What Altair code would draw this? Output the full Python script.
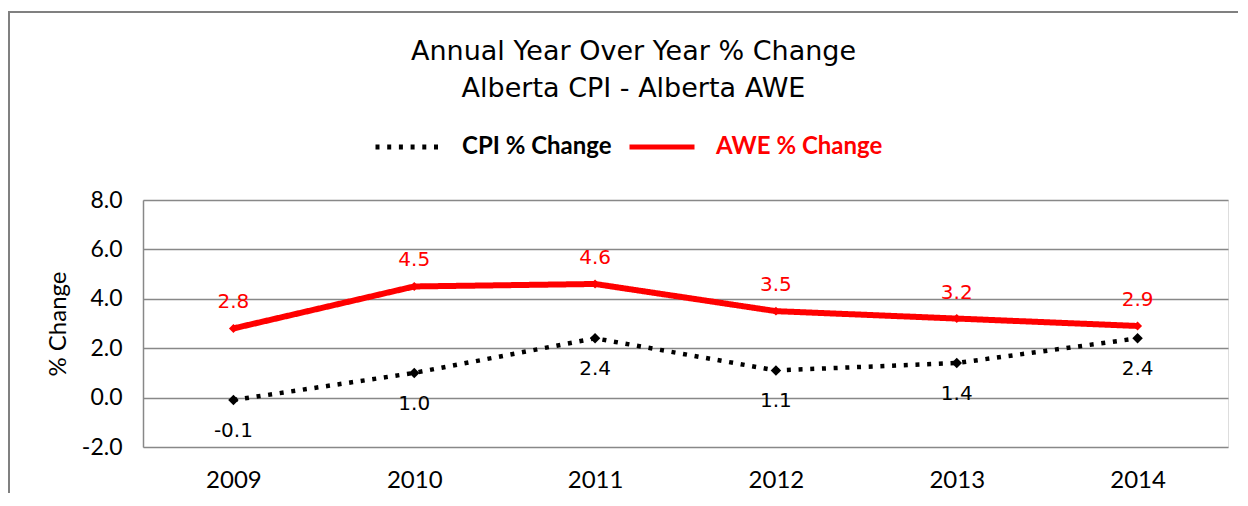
import altair as alt
import pandas as pd

years = ["2009", "2010", "2011", "2012", "2013", "2014"]
cpi_change = [-0.1, 1.0, 2.4, 1.1, 1.4, 2.4]
awe_change = [2.8, 4.5, 4.6, 3.5, 3.2, 2.9]
series_names = ["CPI % Change", "AWE % Change"]
series_colors = ["#000000", "#ff0000"]
y_ticks = [-2, 0, 2, 4, 6, 8]
title_lines = ["Annual Year Over Year % Change", "Alberta CPI - Alberta AWE"]
y_title = "% Change"

rows = []
for yr, v in zip(years, cpi_change):
    rows.append({"year": yr, "series": series_names[0], "value": v, "label": f"{v:.1f}"})
for yr, v in zip(years, awe_change):
    rows.append({"year": yr, "series": series_names[1], "value": v, "label": f"{v:.1f}"})
df = pd.DataFrame(rows)

GRID = "#888888"

x_enc = alt.X(
    "year:O",
    sort=years,
    scale=alt.Scale(type="point", padding=0.5),
    axis=alt.Axis(title=None, domain=False, ticks=False, grid=False, labelAngle=0,
                  labelFont="Lato", labelFontSize=24, labelColor="#000000", labelPadding=21),
)
y_enc = alt.Y(
    "value:Q",
    scale=alt.Scale(domain=[-2, 8], nice=False, zero=False),
    axis=alt.Axis(title=y_title, values=y_ticks,
                  labelExpr="replace(format(datum.value, '.1f'), '\u2212', '-')",
                  domain=True, domainColor=GRID, domainWidth=1.5, ticks=False,
                  grid=True, gridColor=GRID, gridWidth=1.5,
                  labelFont="Lato", labelFontSize=23, labelColor="#000000", labelPadding=21,
                  titleFont="Lato", titleFontSize=24, titleFontWeight="normal",
                  titleColor="#000000", titlePadding=11),
)

legend = alt.Legend(
    title=None, orient="none", legendX=230, legendY=-88, direction="horizontal",
    symbolType="stroke", symbolSize=4225, symbolStrokeWidth=5,
    labelFont="Lato", labelFontSize=24, labelFontWeight="bold",
    labelColor={"expr": "datum.label === 'AWE % Change' ? '#ff0000' : '#000000'"},
    labelOffset=19, columnPadding=7, padding=0, labelLimit=400,
)

color_enc = alt.Color("series:N", sort=series_names,
                      scale=alt.Scale(domain=series_names, range=series_colors), legend=legend)
dash_enc = alt.StrokeDash("series:N", sort=series_names,
                          scale=alt.Scale(domain=series_names, range=[[4, 7.7], [1, 0]]),
                          legend=legend)

base = alt.Chart(df)
cpi_base = base.transform_filter(alt.datum.series == series_names[0])
awe_base = base.transform_filter(alt.datum.series == series_names[1])

cpi_line = cpi_base.mark_line(strokeWidth=4.5, strokeJoin="round").encode(
    x=x_enc, y=y_enc, color=color_enc, strokeDash=dash_enc)
awe_line = awe_base.mark_line(strokeWidth=6, strokeJoin="round").encode(
    x=x_enc, y=y_enc, color=color_enc, strokeDash=dash_enc)

cpi_points = cpi_base.mark_point(shape="diamond", filled=True, opacity=1, strokeWidth=0,
                                 size=110, color=series_colors[0]).encode(x=x_enc, y=y_enc)
awe_points = awe_base.mark_point(shape="diamond", filled=True, opacity=1, strokeWidth=0,
                                 size=80, color=series_colors[1]).encode(x=x_enc, y=y_enc)

awe_text = awe_base.mark_text(
    font="DejaVu Sans", fontSize=20, color=series_colors[1], dy=-26, baseline="middle"
).encode(x=x_enc, y=y_enc, text="label:N")

cpi_text = cpi_base.mark_text(
    font="DejaVu Sans", fontSize=20, color=series_colors[0], dy=31, baseline="middle"
).encode(x=x_enc, y=y_enc, text="label:N")

frame_df = pd.DataFrame({"k": [0]})
frame_top = alt.Chart(frame_df).mark_rule(color="#808080", strokeWidth=2).encode(
    x=alt.value(-134), x2=alt.value(1100), y=alt.value(-188)
)
frame_left = alt.Chart(frame_df).mark_rule(color="#808080", strokeWidth=2).encode(
    x=alt.value(-134), y=alt.value(-189), y2=alt.value(300)
)

chart = alt.layer(frame_top, frame_left, cpi_line, awe_line, cpi_points, awe_points,
                  awe_text, cpi_text).properties(
    width=1085, height=247,
    title=alt.TitleParams(text=title_lines, font="DejaVu Sans", fontSize=27, fontWeight="normal",
                          color="#000000", anchor="middle", dx=-52, offset=-93, lineHeight=37,
                          baseline="top"),
    padding={"left": 135, "top": 192, "right": 10, "bottom": 46},
    autosize=alt.AutoSizeParams(type="none"),
).configure_view(stroke=None).configure(background="#ffffff")

chart.save("out.html", embed_options={"renderer": "svg", "actions": False})
